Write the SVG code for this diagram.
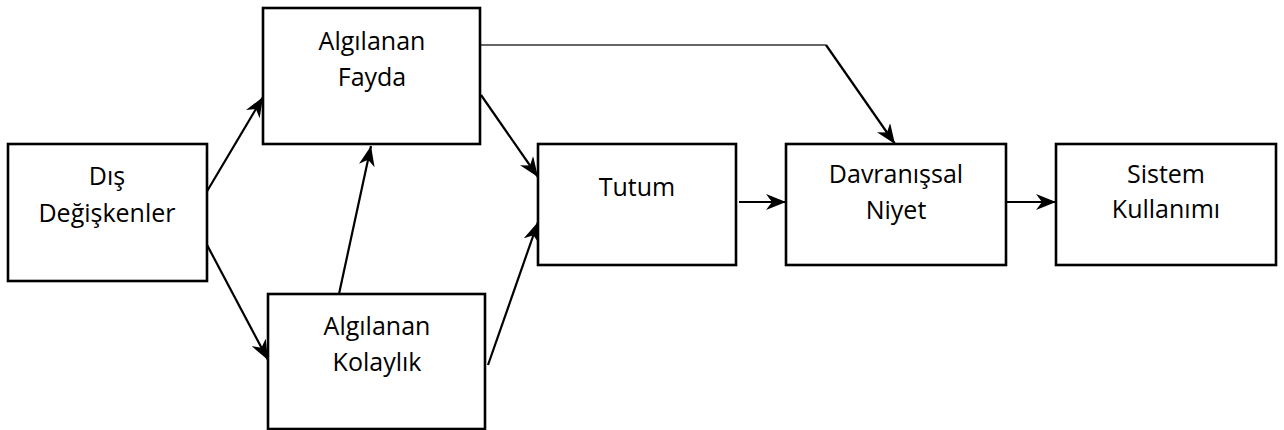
<svg xmlns="http://www.w3.org/2000/svg" width="1284" height="430" viewBox="0 0 1284 430">
<style>
.box{fill:#fff;stroke:#000;stroke-width:2.6}
.t{font-family:"Open Sans","Noto Sans",sans-serif;font-size:25px;fill:#000;text-anchor:middle}
.c{fill:none;stroke:#000;stroke-width:2.2}
.thin{fill:none;stroke:#333;stroke-width:1.4}
</style>
<defs>
<marker id="ah" markerUnits="userSpaceOnUse" markerWidth="20" markerHeight="16" viewBox="0 0 20 16" refX="20" refY="8" orient="auto">
<path d="M0,0 L20,8 L0,16 L6,8 z" fill="#000"/>
</marker>
</defs>
<rect width="1284" height="430" fill="#fff"/>
<g id="connectors">
<line class="c" x1="206" y1="193" x2="263" y2="97" marker-end="url(#ah)"/>
<line class="c" x1="206" y1="243" x2="268" y2="360" marker-end="url(#ah)"/>
<line class="c" x1="339" y1="294" x2="371" y2="146" marker-end="url(#ah)"/>
<line class="c" x1="481" y1="95" x2="538" y2="177" marker-end="url(#ah)"/>
<line class="c" x1="488" y1="365" x2="538" y2="222" marker-end="url(#ah)"/>
<line class="c" x1="739" y1="202" x2="786" y2="202" marker-end="url(#ah)"/>
<line class="c" x1="1007" y1="202" x2="1056" y2="202" marker-end="url(#ah)"/>
<polyline class="thin" points="481,45 826,45"/>
<line class="c" x1="826" y1="45" x2="895" y2="144" marker-end="url(#ah)"/>
</g>
<g id="dis">
<rect class="box" x="8" y="144" width="199" height="137"/>
<text class="t" x="107" y="185">Dış</text>
<text class="t" x="107" y="222">Değişkenler</text>
</g>
<g id="fayda">
<rect class="box" x="263" y="8" width="217" height="136"/>
<text class="t" x="372" y="50">Algılanan</text>
<text class="t" x="372" y="86">Fayda</text>
</g>
<g id="kolaylik">
<rect class="box" x="268" y="294" width="217" height="135"/>
<text class="t" x="377" y="335">Algılanan</text>
<text class="t" x="377" y="371">Kolaylık</text>
</g>
<g id="tutum">
<rect class="box" x="538" y="144" width="198" height="121"/>
<text class="t" x="637" y="196">Tutum</text>
</g>
<g id="niyet">
<rect class="box" x="786" y="144" width="220" height="121"/>
<text class="t" x="896" y="183">Davranışsal</text>
<text class="t" x="896" y="219">Niyet</text>
</g>
<g id="sistem">
<rect class="box" x="1056" y="144" width="220" height="121"/>
<text class="t" x="1166" y="183">Sistem</text>
<text class="t" x="1166" y="218">Kullanımı</text>
</g>
</svg>
